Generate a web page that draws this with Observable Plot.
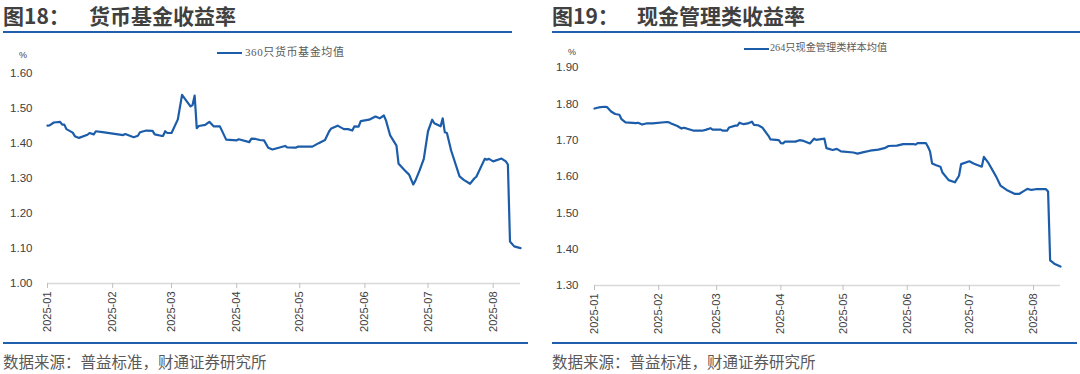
<!DOCTYPE html>
<html><head><meta charset="utf-8">
<script src="https://cdn.jsdelivr.net/npm/d3@7"></script>
<script src="https://cdn.jsdelivr.net/npm/@observablehq/plot@0.6"></script>
<style>
body{margin:0;background:#fff;}
#wrap{position:relative;width:1080px;height:374px;overflow:hidden;font-family:"Liberation Sans","Noto Sans CJK SC",sans-serif;}
.abs{position:absolute;white-space:nowrap;line-height:1;}
.title{font-family:"Noto Sans CJK SC",sans-serif;font-weight:700;font-size:21px;color:#404040;}
.rule{position:absolute;height:2px;background:#1f5fae;}
.src{font-family:"Noto Sans CJK SC",sans-serif;font-size:15.5px;color:#595959;}
.pct{font-size:9px;color:#404040;}
.leg{font-family:"Liberation Serif","Noto Sans CJK SC",serif;font-size:11px;color:#595959;}
.legline{position:absolute;height:2px;background:#1c5daa;}
.chart{position:absolute;top:40px;}
</style></head>
<body><div id="wrap">
<div class="abs title" style="left:3px;top:5px;">图18：</div>
<div class="abs title" style="left:89px;top:5px;">货币基金收益率</div>
<div class="abs title" style="left:552px;top:5px;">图19：</div>
<div class="abs title" style="left:637px;top:5px;">现金管理类收益率</div>
<div class="rule" style="left:3px;top:31px;width:509px;"></div>
<div class="rule" style="left:552px;top:31px;width:528px;"></div>
<div class="abs pct" style="left:19px;top:51px;">%</div>
<div class="abs pct" style="left:568px;top:48px;">%</div>
<div class="legline" style="left:217px;top:52px;width:25px;"></div>
<div class="abs leg" style="left:245px;top:47px;letter-spacing:0.6px;">360只货币基金均值</div>
<div class="legline" style="left:744px;top:48px;width:25px;"></div>
<div class="abs leg" style="left:770px;top:43px;font-size:10.2px;">264只现金管理类样本均值</div>
<div id="c1" class="chart" style="left:0px;"></div>
<div id="c2" class="chart" style="left:545px;"></div>
<div class="rule" style="left:3px;top:342px;width:525px;"></div>
<div class="rule" style="left:552px;top:342px;width:525px;"></div>
<div class="abs src" style="left:3px;top:354px;">数据来源：普益标准，财通证券研究所</div>
<div class="abs src" style="left:552px;top:354px;">数据来源：普益标准，财通证券研究所</div>
</div>
<script>
const monthTicks = ["2025-01-01","2025-02-01","2025-03-01","2025-04-01","2025-05-01","2025-06-01","2025-07-01","2025-08-01"];
const xDomain = ["2025-01-01","2025-08-14"];
const mmfYTicks = [1.0,1.1,1.2,1.3,1.4,1.5,1.6];
const cashYTicks = [1.3,1.4,1.5,1.6,1.7,1.8,1.9];

const mmfDates = ["01-01","01-02","01-04","01-07","01-08","01-09","01-10","01-13","01-14","01-16","01-20","01-21","01-23","01-24","01-28","02-06","02-07","02-11","02-13","02-14","02-17","02-20","02-21","02-24","02-25","02-26","02-27","03-01","03-04","03-06","03-10","03-11","03-12","03-13","03-14","03-17","03-19","03-21","03-24","03-27","04-01","04-02","04-07","04-08","04-10","04-12","04-14","04-16","04-18","04-21","04-24","04-25","04-29","04-30","05-07","05-10","05-13","05-15","05-16","05-19","05-22","05-24","05-26","05-27","05-29","05-30","06-03","06-06","06-08","06-10","06-11","06-13","06-16","06-17","06-18","06-20","06-22","06-24","06-25","06-27","06-29","07-01","07-03","07-04","07-07","07-08","07-09","07-10","07-12","07-16","07-18","07-21","07-23","07-24","07-28","07-29","07-30","08-01","08-05","08-07","08-08","08-09","08-11","08-14"];
const mmfValues = [1.451,1.452,1.460,1.462,1.454,1.454,1.441,1.431,1.421,1.416,1.425,1.430,1.426,1.435,1.432,1.424,1.427,1.418,1.422,1.432,1.437,1.436,1.426,1.422,1.422,1.435,1.430,1.430,1.469,1.539,1.506,1.510,1.537,1.444,1.450,1.453,1.462,1.449,1.449,1.411,1.409,1.412,1.404,1.414,1.413,1.410,1.409,1.388,1.383,1.388,1.393,1.389,1.388,1.391,1.391,1.401,1.410,1.435,1.443,1.451,1.441,1.441,1.437,1.449,1.448,1.464,1.468,1.477,1.472,1.480,1.466,1.423,1.394,1.342,1.336,1.323,1.311,1.283,1.294,1.323,1.356,1.435,1.468,1.458,1.449,1.472,1.432,1.430,1.380,1.306,1.296,1.285,1.300,1.305,1.356,1.354,1.356,1.349,1.357,1.349,1.340,1.120,1.106,1.101];

const cashDates = ["01-01","01-03","01-06","01-07","01-09","01-11","01-13","01-14","01-16","01-21","01-22","01-24","01-26","01-29","02-05","02-06","02-07","02-10","02-12","02-13","02-14","02-18","02-22","02-24","02-26","02-27","03-03","03-04","03-06","03-07","03-10","03-11","03-12","03-14","03-16","03-18","03-19","03-21","03-23","03-26","03-27","03-31","04-01","04-02","04-03","04-08","04-10","04-12","04-15","04-17","04-18","04-22","04-23","04-26","04-28","04-30","05-06","05-08","05-11","05-14","05-15","05-18","05-21","05-23","05-27","05-30","06-04","06-05","06-06","06-10","06-11","06-12","06-13","06-15","06-17","06-18","06-21","06-24","06-26","06-27","07-01","07-03","07-07","07-08","07-10","07-14","07-16","07-19","07-23","07-25","07-27","07-29","07-31","08-02","08-07","08-08","08-09","08-11","08-14"];
const cashValues = [1.787,1.790,1.792,1.791,1.779,1.772,1.770,1.758,1.749,1.747,1.748,1.743,1.746,1.746,1.750,1.749,1.746,1.739,1.732,1.734,1.733,1.726,1.726,1.729,1.733,1.729,1.729,1.726,1.726,1.735,1.740,1.740,1.748,1.744,1.746,1.751,1.742,1.741,1.735,1.712,1.702,1.700,1.692,1.691,1.696,1.696,1.700,1.698,1.691,1.704,1.701,1.704,1.678,1.673,1.676,1.669,1.666,1.663,1.667,1.671,1.672,1.674,1.678,1.684,1.685,1.689,1.689,1.688,1.692,1.692,1.682,1.669,1.636,1.631,1.627,1.611,1.590,1.584,1.602,1.634,1.642,1.636,1.627,1.654,1.639,1.599,1.575,1.563,1.552,1.552,1.559,1.566,1.563,1.565,1.565,1.559,1.369,1.360,1.352];

const parse = s => new Date(s + "T00:00:00Z");
const mmf = mmfDates.map((d,i)=>({date: parse("2025-"+d), value: mmfValues[i]}));
const cash = cashDates.map((d,i)=>({date: parse("2025-"+d), value: cashValues[i]}));

function make(data, yDom, yTicks, opts){
  return Plot.plot({
    width: 535, height: 300,
    marginLeft: opts.ml, marginRight: opts.mr, marginTop: opts.mt, marginBottom: opts.mb,
    style: {fontFamily: "Liberation Sans, Noto Sans CJK SC, sans-serif", color: "#404040", background: "transparent", overflow: "visible"},
    x: {type: "utc", domain: xDomain.map(parse)},
    y: {domain: yDom},
    marks: [
      Plot.axisY({ticks: yTicks, tickSize: 0, tickPadding: opts.tp, tickFormat: d => d.toFixed(2), fontSize: 11.5, label: null}),
      Plot.ruleY([yDom[0]], {stroke: "#d9d9d9", strokeWidth: 1.5}),
      Plot.axisX({ticks: monthTicks.map(parse), tickSize: 5, tickPadding: 3, tickRotate: -90, tickFormat: d3.utcFormat("%Y-%m"), fontSize: 11, label: null, stroke: "#bfbfbf"}),
      Plot.lineY(data, {x: "date", y: "value", stroke: "#1c5daa", strokeWidth: 2.2, strokeLinejoin: "round"})
    ]
  });
}
document.getElementById("c1").appendChild(make(mmf, [1.0, 1.6], mmfYTicks, {ml: 47, mr: 15, mt: 33, mb: 57, tp: 15}));
document.getElementById("c2").appendChild(make(cash, [1.3, 1.9], cashYTicks, {ml: 49, mr: 20, mt: 27, mb: 55, tp: 16}));
</script>
</body></html>
